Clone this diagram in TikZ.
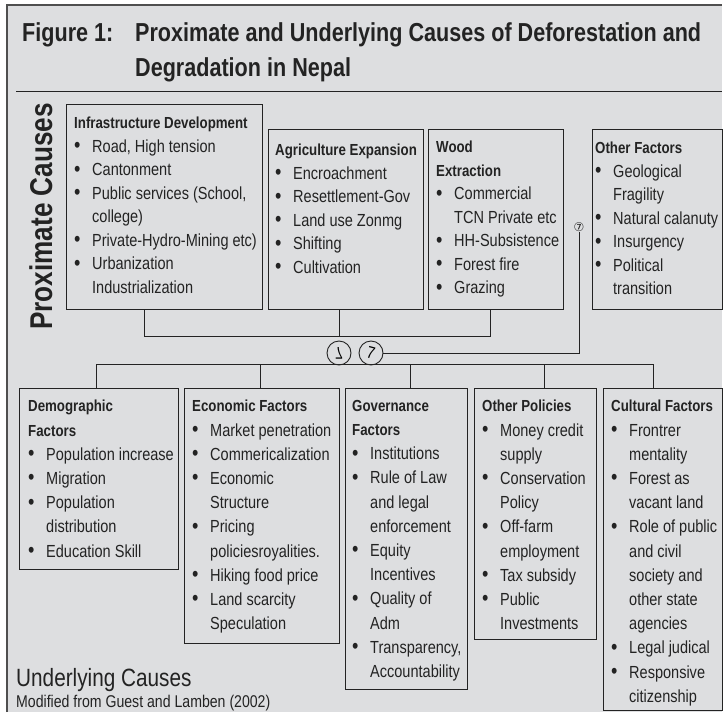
\documentclass[tikz,border=0pt]{standalone}
\usepackage{fontspec}
\setmainfont[FakeStretch=0.83]{Liberation Sans}
\newfontfamily\symfont{DejaVu Sans}
\usepackage{graphicx}
\usetikzlibrary{positioning}
\definecolor{panel}{RGB}{221,222,224}
\definecolor{ink}{RGB}{35,35,35}
\newcommand\itm{\makebox[18pt][l]{\raisebox{-0.4pt}{\scalebox{1.25}{\textbullet}}}}
\newcommand\cnt{\hspace*{18pt}}
\newcommand\hd[1]{{\bfseries\fontsize{16}{20}\selectfont #1}}

\begin{document}
\begin{tikzpicture}[x=1pt,y=-1pt,
    cbox/.style={draw=ink,line width=1.1pt,inner sep=0pt,anchor=north west},
    ptext/.style={inner sep=0pt,align=left,text=ink,font=\fontsize{17.5}{23.5}\selectfont},
    utext/.style={inner sep=0pt,align=left,text=ink,font=\fontsize{17.5}{24.2}\selectfont},
    conn/.style={draw=ink,line width=1pt},
    sym/.style={circle,draw=ink,line width=0.9pt,minimum size=24pt,inner sep=0pt,font=\fontsize{17}{17}\selectfont}]
        \useasboundingbox (0,0) rectangle (725,712);
        \fill[panel] (7,5) rectangle (722,712);
        \draw[ink!80,line width=1.6pt] (7,712) -- (7,5) -- (722,5);
        \draw[ink,line width=1pt] (16,91.5) -- (722,91.5);

        % title
        \node[anchor=base west,inner sep=0pt,text=ink,font=\bfseries\fontsize{26}{35}\selectfont] (fig) at (22,41) {Figure 1:};
        \node[anchor=north west,inner sep=0pt,align=left,text=ink,font=\bfseries\fontsize{26}{35}\selectfont] (ttl) at (135,22)
            {Proximate and Underlying Causes of Deforestation and\\Degradation in Nepal};
        \node[rotate=90,anchor=base west,inner sep=0pt,text=ink,font=\bfseries\fontsize{31.5}{31.5}\selectfont] (prox) at (52,330) {Proximate Causes};

        % proximate causes
        \node[cbox,minimum width=196pt,minimum height=205pt] (infra) at (66,104) {};
        \node[cbox,minimum width=155pt,minimum height=180pt] (agri) at (268,129) {};
        \node[cbox,minimum width=135pt,minimum height=180pt] (wood) at (428,129) {};
        \node[cbox,minimum width=130pt,minimum height=180pt] (oth) at (592,129) {};

        \node[ptext,below right=13pt and 8pt of infra.north west] (infra-t) {\hd{Infrastructure Development}\\
            \itm Road, High tension\\ \itm Cantonment\\ \itm Public services (School,\\ \cnt college)\\
            \itm Private-Hydro-Mining etc)\\ \itm Urbanization\\ \cnt Industrialization};
        \node[ptext,below right=15pt and 7pt of agri.north west] (agri-t) {\hd{Agriculture Expansion}\\
            \itm Encroachment\\ \itm Resettlement-Gov\\ \itm Land use Zonmg\\ \itm Shifting\\ \itm Cultivation};
        \node[ptext,below right=12pt and 8pt of wood.north west] (wood-t) {\hd{Wood}\\ \hd{Extraction}\\
            \itm Commercial\\ \cnt TCN Private etc\\ \itm HH-Subsistence\\ \itm Forest fire\\ \itm Grazing};
        \node[ptext,below right=13pt and 3pt of oth.north west] (oth-t) {\hd{Other Factors}\\
            \itm Geological\\ \cnt Fragility\\ \itm Natural calanuty\\ \itm Insurgency\\ \itm Political\\ \cnt transition};

        \coordinate (pb1) at (144,336);
        \coordinate (pb2) at (339,336);
        \coordinate (pb3) at (490,336);
        \draw[conn] (pb1 |- infra.south) -- (pb1) -- (pb3) -- (pb3 |- wood.south);
        \draw[conn] (pb2 |- agri.south) -- (pb2);

        \node[sym] (s1) at (339,353) {\scalebox{1}[-1]{7}};
        \node[sym] (s2) at (371,353) {\rotatebox{-15}{7}};
        \node[inner sep=0pt,text=ink,font=\symfont\fontsize{12}{12}\selectfont] (s3) at (579,227) {⑦};
        \draw[conn] (s2.east) -| (s3.south);

        % underlying causes
        \node[cbox,minimum width=159pt,minimum height=181pt] (demo) at (19,388) {};
        \node[cbox,minimum width=155pt,minimum height=255pt] (econ) at (184,388) {};
        \node[cbox,minimum width=122pt,minimum height=301pt] (gov) at (345,388) {};
        \node[cbox,minimum width=122pt,minimum height=251pt] (opol) at (474,388) {};
        \node[cbox,minimum width=119pt,minimum height=322pt] (cult) at (603,388) {};

        \node[utext,below right=12pt and 9pt of demo.north west] (demo-t) {\hd{Demographic}\\ \hd{Factors}\\
            \itm Population increase\\ \itm Migration\\ \itm Population\\ \cnt distribution\\ \itm Education Skill};
        \node[utext,below right=12pt and 8pt of econ.north west] (econ-t) {\hd{Economic Factors}\\
            \itm Market penetration\\ \itm Commericalization\\ \itm Economic\\ \cnt Structure\\ \itm Pricing\\
            \cnt policiesroyalities.\\ \itm Hiking food price\\ \itm Land scarcity\\ \cnt Speculation};
        \node[utext,below right=12pt and 7pt of gov.north west] (gov-t) {\hd{Governance}\\ \hd{Factors}\\
            \itm Institutions\\ \itm Rule of Law\\ \cnt and legal\\ \cnt enforcement\\ \itm Equity\\ \cnt Incentives\\
            \itm Quality of\\ \cnt Adm\\ \itm Transparency,\\ \cnt Accountability};
        \node[utext,below right=12pt and 8pt of opol.north west] (opol-t) {\hd{Other Policies}\\
            \itm Money credit\\ \cnt supply\\ \itm Conservation\\ \cnt Policy\\ \itm Off-farm\\ \cnt employment\\
            \itm Tax subsidy\\ \itm Public\\ \cnt Investments};
        \node[utext,below right=12pt and 8pt of cult.north west] (cult-t) {\hd{Cultural Factors}\\
            \itm Frontrer\\ \cnt mentality\\ \itm Forest as\\ \cnt vacant land\\ \itm Role of public\\ \cnt and civil\\
            \cnt society and\\ \cnt other state\\ \cnt agencies\\ \itm Legal judical\\ \itm Responsive\\ \cnt citizenship};

        \coordinate (ub1) at (96,364);
        \coordinate (ub2) at (260,364);
        \coordinate (ub3) at (410,364);
        \coordinate (ub4) at (544,364);
        \coordinate (ub5) at (653,364);
        \draw[conn] (ub1 |- demo.north) -- (ub1) -- (ub5) -- (ub5 |- cult.north);
        \foreach \b/\n in {ub2/econ,ub3/gov,ub4/opol}
            \draw[conn] (\b) -- (\b |- \n.north);

        \node[anchor=base west,inner sep=0pt,text=ink,font=\fontsize{25}{25}\selectfont] (under) at (16,686) {Underlying Causes};
        \node[anchor=base west,inner sep=0pt,text=ink,font=\fontsize{17}{17}\selectfont] (src) at (16,707) {Modified from Guest and Lamben (2002)};
\end{tikzpicture}
\end{document}
